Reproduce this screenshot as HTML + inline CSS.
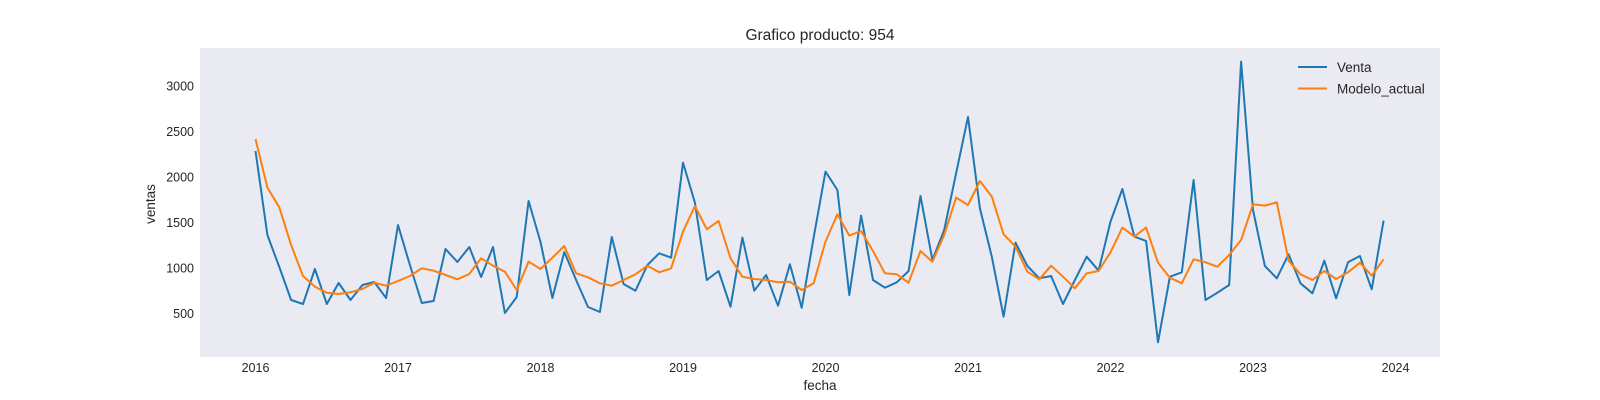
<!DOCTYPE html>
<html><head><meta charset="utf-8"><style>
html,body{margin:0;padding:0;background:#fff;font-family:"Liberation Sans",sans-serif;overflow:hidden;width:1600px;height:400px}
svg{display:block}
svg text{font-family:"Liberation Sans",sans-serif;fill:#262626}
</style></head><body>
<svg width="1600" height="400">
<rect x="200" y="48" width="1240" height="309" fill="#eaeaf2"/>
<text x="820" y="40" text-anchor="middle" font-size="15.5">Grafico producto: 954</text>
<text x="820" y="390" text-anchor="middle" font-size="13.5">fecha</text>
<text x="0" y="0" transform="translate(155,204) rotate(-90)" text-anchor="middle" font-size="13.5">ventas</text>
<g id="xt"></g>
<g id="yt"></g>
<g id="lines"></g>
<g>
<line x1="1298" y1="67" x2="1327" y2="67" stroke="#1f77b4" stroke-width="2"/>
<text x="1337" y="72" font-size="13.5">Venta</text>
<line x1="1298" y1="88.5" x2="1327" y2="88.5" stroke="#ff7f0e" stroke-width="2"/>
<text x="1337" y="93.5" font-size="13.5">Modelo_actual</text>
</g>
</svg>
<script>
const xTickLabels=[2016,2017,2018,2019,2020,2021,2022,2023,2024];
const yTickLabels=[500,1000,1500,2000,2500,3000];
const startYear=2016;
const venta=[2285,1361,1009,646,602,987,602,833,646,811,844,668,
1471,1031,613,635,1207,1064,1229,899,1229,503,679,1735,
1284,668,1174,866,569,514,1339,822,749,1031,1160,1112,
2157,1717,866,965,573,1332,749,921,584,1039,562,1330,
2058,1856,701,1574,866,782,841,965,1790,1086,1416,2040,
2660,1655,1123,463,1277,1020,885,910,602,866,1123,969,
1508,1867,1343,1295,181,903,951,1966,646,727,811,3268,
1636,1020,885,1149,830,720,1079,665,1061,1130,764,1519];
const modelo=[2417,1882,1666,1251,910,793,727,712,731,767,837,804,
855,910,995,969,921,874,932,1105,1024,958,756,1068,
987,1112,1240,940,896,830,804,866,929,1024,951,995,
1398,1680,1424,1515,1105,903,877,866,841,848,756,830,
1288,1589,1354,1405,1185,940,929,837,1185,1068,1361,1772,
1691,1955,1783,1369,1233,958,874,1024,903,775,940,965,
1171,1442,1343,1442,1057,892,830,1094,1061,1013,1141,1306,
1699,1684,1721,1079,929,866,965,877,951,1057,914,1094];
const NS='http://www.w3.org/2000/svg';
function xs(t){return 255.5+(t-2016)*142.5;}
function ys(v){return 313.3-(v-500)*0.09093;}
const xt=document.getElementById('xt'),yt=document.getElementById('yt'),lg=document.getElementById('lines');
xTickLabels.forEach(l=>{const t=document.createElementNS(NS,'text');
t.setAttribute('x',xs(l));t.setAttribute('y',372);t.setAttribute('text-anchor','middle');t.setAttribute('font-size','12.5');t.textContent=l;


xt.appendChild(t);});
yTickLabels.forEach(l=>{const t=document.createElementNS(NS,'text');
t.setAttribute('x',194);t.setAttribute('y',ys(l)+4.5);t.setAttribute('text-anchor','end');t.setAttribute('font-size','12.5');t.textContent=l;


yt.appendChild(t);});
function draw(arr,color,name){const p=document.createElementNS(NS,'polyline');
p.setAttribute('points',arr.map((v,i)=>xs(startYear+i/12).toFixed(1)+','+ys(v).toFixed(1)).join(' '));
p.setAttribute('fill','none');p.setAttribute('stroke',color);p.setAttribute('stroke-width','2');p.setAttribute('stroke-linejoin','round');


lg.appendChild(p);}
draw(venta,'#1f77b4','venta-line');
draw(modelo,'#ff7f0e','modelo-actual-line');
</script>
</body></html>
